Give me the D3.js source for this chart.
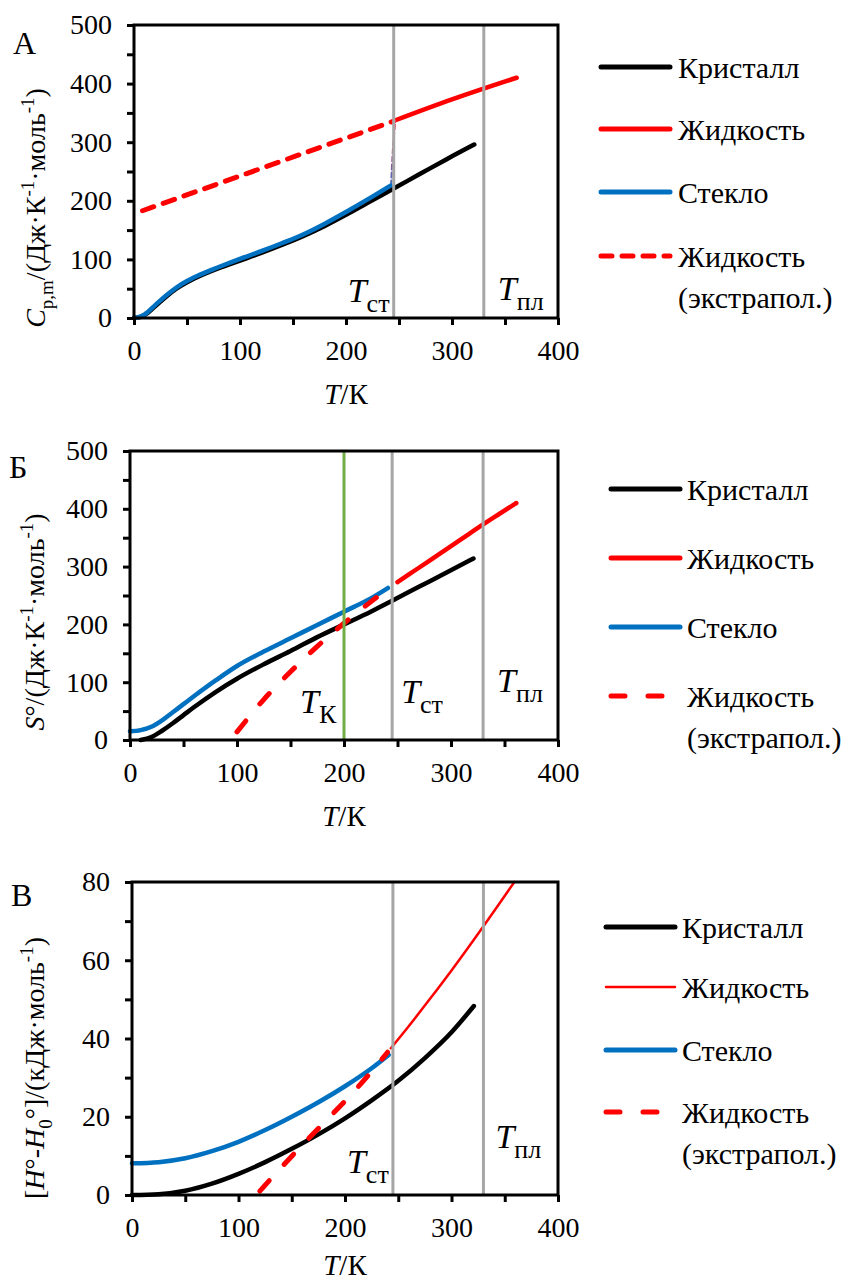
<!DOCTYPE html>
<html>
<head>
<meta charset="utf-8">
<script src="https://cdn.jsdelivr.net/npm/d3@7"></script>
<style>
  body { margin: 0; background: #fff; }
</style>
</head>
<body>
<svg id="chart" width="852" height="1284"></svg>
<script>
// ---------- data ----------
const xTickValues = [0, 50, 100, 150, 200, 250, 300, 350, 400];
const xTickLabels = [0, 100, 200, 300, 400];
const yTicksA = [0, 50, 100, 150, 200, 250, 300, 350, 400, 450, 500];
const yTicksC = [0, 10, 20, 30, 40, 50, 60, 70, 80];

const T_glass = 245, T_melt = 330, T_kauz = 200;

// A: heat capacity, J/(K mol)
const cpCrystalT = [0, 5, 10, 20, 30, 40, 50, 60, 80, 100, 120, 140, 160, 180, 200, 220, 245, 270, 295, 321];
const cpCrystal  = [0, 1, 5, 20, 36, 50, 61, 70, 85, 98, 111, 125, 140, 157, 176, 196, 221, 246, 271, 296];
const cpGlassT   = [0, 5, 10, 20, 30, 40, 50, 60, 80, 100, 120, 140, 160, 180, 200, 220, 242];
const cpGlass    = [0, 2, 6, 22, 38, 52, 63, 72, 87, 101, 114, 128, 143, 161, 181, 202, 226];
const cpJumpT    = [242.5, 244, 246.5];
const cpJump     = [226, 280, 336];
const cpLiqExtT  = [8, 245];
const cpLiqExt   = [183, 336];
const cpLiqT     = [246, 300, 361];
const cpLiq      = [337, 373, 410];

// Б: entropy, J/(K mol)
const sCrystalT = [10, 20, 30, 40, 50, 60, 80, 100, 125, 150, 175, 200, 225, 245, 270, 295, 321];
const sCrystal  = [0, 5, 16, 29, 43, 57, 83, 106, 131, 154, 178, 200, 222, 241, 265, 289, 314];
const sGlassT   = [0, 10, 20, 30, 40, 50, 60, 80, 100, 125, 150, 175, 200, 225, 241];
const sGlass    = [15, 17, 23, 34, 48, 62, 76, 103, 128, 153, 176, 199, 222, 245, 263];
const sLiqExtT  = [100, 125, 150, 175, 200, 225, 245];
const sLiqExt   = [14, 70, 118, 162, 202, 239, 267];
const sLiqT     = [250, 270, 290, 310, 330, 345, 361];
const sLiq      = [273, 298, 323, 348, 373, 391, 410];

// В: enthalpy, kJ/mol
const hCrystalT = [0, 25, 50, 75, 100, 125, 150, 175, 200, 225, 250, 275, 300, 321];
const hCrystal  = [0, 0.2, 1.1, 2.9, 5.4, 8.4, 11.8, 15.5, 19.6, 24.2, 29.2, 35.0, 41.6, 48.3];
const hGlassT   = [0, 25, 50, 75, 100, 125, 150, 175, 200, 225, 241];
const hGlass    = [8.1, 8.4, 9.4, 11.2, 13.6, 16.6, 20.0, 23.7, 27.8, 32.4, 35.8];
const hLiqExtT  = [120, 140, 160, 180, 200, 220, 240];
const hLiqExt   = [1, 7, 12.8, 18.4, 24, 30, 36.5];
const hLiqT     = [243, 260, 280, 300, 330, 345, 359];
const hLiq      = [37.5, 43.2, 50.2, 57.4, 68.7, 74.5, 80];

const legendNames = ['Кристалл', 'Жидкость', 'Стекло', 'Жидкость', '(экстрапол.)'];

// ---------- drawing ----------
const FONT = "'Liberation Serif', LiberationSerif, 'DejaVu Serif', DejaVuSerif, Tinos, 'Nimbus Roman', 'Times New Roman', Times, serif";
const svg = d3.select('#chart');
const BLACK = '#000000', RED = '#ff0000', BLUE = '#0070c0', GRAY = '#a6a6a6', GREEN = '#70ad47';

svg.attr('font-family', FONT);

const defs = svg.append('defs');
const grad = defs.append('linearGradient').attr('id', 'jump')
    .attr('x1', 0).attr('y1', 1).attr('x2', 0).attr('y2', 0);
grad.append('stop').attr('offset', '0%').attr('stop-color', '#4a6fc0');
grad.append('stop').attr('offset', '100%').attr('stop-color', '#ff3050');

// rich text helper: segments [text, kind] with kind in n / i / sub / sup
function richText(sel, segs, size, small) {
    let shift = 0;
    sel.attr('font-family', FONT);
    segs.forEach(s => {
        let target = s[1] === 'sub' ? 0.28 * size : (s[1] === 'sup' ? -0.38 * size : 0);
        sel.append('tspan')
            .attr('dy', target - shift)
            .attr('font-size', (s[1] === 'sub' || s[1] === 'sup' ? small : size))
            .attr('font-style', s[1] === 'i' ? 'italic' : 'normal')
            .text(s[0]);
        shift = target;
    });
}

function drawPanel(p) {
    let x = d3.scaleLinear().domain([0, 400]).range([p.left, p.right]);
    let y = d3.scaleLinear().domain([0, p.yMax]).range([p.bottom, p.top]);
    let g = svg.append('g');

    let line = d3.line()
        .x(d => x(d[0]))
        .y(d => y(d[1]))
        .curve(d3.curveMonotoneX);

    // curves
    p.series.forEach(s => {
        g.append('path')
            .attr('d', line(d3.zip(s.t, s.v)))
            .attr('fill', 'none')
            .attr('stroke', s.color)
            .attr('stroke-width', s.width)
            .attr('stroke-linecap', 'round')
            .attr('stroke-dasharray', s.dash || null);
    });

    // temperature markers
    p.marks.forEach(m => {
        g.append('line')
            .attr('x1', x(m.t)).attr('x2', x(m.t))
            .attr('y1', p.top).attr('y2', p.bottom)
            .attr('stroke', m.color)
            .attr('stroke-width', 3);
        let t = g.append('text')
            .attr('x', x(m.t) + m.dx)
            .attr('y', p.bottom + m.dy);
        richText(t, [['T', 'i'], [m.sub, 'sub']], 34, 26);
    });

    // frame
    g.append('rect')
        .attr('x', p.left).attr('y', p.top)
        .attr('width', p.right - p.left).attr('height', p.bottom - p.top)
        .attr('fill', 'none').attr('stroke', BLACK).attr('stroke-width', 3);

    // axes
    let xAxis = g.append('g')
        .attr('transform', 'translate(0,' + p.bottom + ')')
        .call(d3.axisBottom(x)
            .tickValues(xTickValues)
            .tickSize(7).tickSizeOuter(0).tickPadding(15)
            .tickFormat(d => xTickLabels.includes(d) ? d : ''));
    let yAxis = g.append('g')
        .attr('transform', 'translate(' + p.left + ',0)')
        .call(d3.axisLeft(y)
            .tickValues(p.yTicks)
            .tickSize(7).tickSizeOuter(0).tickPadding(15)
            .tickFormat(d => p.yLabels.includes(d) ? d : ''));
    [xAxis, yAxis].forEach(a => {
        a.attr('font-family', FONT).attr('font-size', 28);
        a.select('.domain').remove();
        a.selectAll('.tick line').attr('stroke', BLACK).attr('stroke-width', 3);
        a.selectAll('.tick text').attr('fill', BLACK);
    });

    // x title
    let xt = g.append('text')
        .attr('x', (p.left + p.right) / 2)
        .attr('y', p.bottom + p.xTitleDy)
        .attr('text-anchor', 'middle');
    richText(xt, [['T', 'i'], ['/К', 'n']], 29, 29);

    // y title
    let yt = g.append('text')
        .attr('transform', 'translate(' + p.yTitleX + ',' + p.yTitleY + ') rotate(-90)')
        .attr('text-anchor', 'middle');
    richText(yt, p.yTitle, 28, 19);

    // panel letter
    g.append('text')
        .attr('x', p.letterX).attr('y', p.letterY)
        .attr('font-size', 32)
        .attr('font-family', FONT)
        .text(p.letter);

    // legend
    let L = p.legend;
    let styles = [
        {color: BLACK, width: 5},
        {color: RED, width: L.liqWidth},
        {color: BLUE, width: 5},
        {color: RED, width: 5, dash: L.dash}
    ];
    styles.forEach((s, i) => {
        g.append('line')
            .attr('x1', L.x0).attr('x2', L.x1)
            .attr('y1', L.ys[i]).attr('y2', L.ys[i])
            .attr('stroke', s.color).attr('stroke-width', s.width)
            .attr('stroke-linecap', 'round')
            .attr('stroke-dasharray', s.dash || null);
        g.append('text')
            .attr('x', L.tx).attr('y', L.ys[i] + 11)
            .attr('font-size', 30)
            .attr('font-family', FONT)
            .text(legendNames[i]);
    });
    g.append('text')
        .attr('x', L.tx).attr('y', L.ys[3] + L.gap + 11)
        .attr('font-size', 30)
        .attr('font-family', FONT)
        .text(legendNames[4]);
}

const jkTitleTail = [['/(Дж·К', 'n'], ['-1', 'sup'], ['·моль', 'n'], ['-1', 'sup'], [')', 'n']];

drawPanel({
    letter: 'А', letterX: 13, letterY: 54,
    left: 134, right: 558, top: 25, bottom: 318, yMax: 500, xTitleDy: 86,
    yTicks: yTicksA, yLabels: [0, 100, 200, 300, 400, 500],
    yTitle: [['C', 'i'], ['p,m', 'sub']].concat(jkTitleTail), yTitleX: 45, yTitleY: 208,
    series: [
        {t: cpCrystalT, v: cpCrystal, color: BLACK, width: 4.5},
        {t: cpLiqExtT, v: cpLiqExt, color: RED, width: 5, dash: '12,10'},
        {t: cpLiqT, v: cpLiq, color: RED, width: 4.5},
        {t: cpJumpT, v: cpJump, color: 'url(#jump)', width: 2, dash: '5,3'},
        {t: cpGlassT, v: cpGlass, color: BLUE, width: 4.5}
    ],
    marks: [
        {t: T_glass, color: GRAY, sub: 'ст', dx: -46, dy: -16},
        {t: T_melt, color: GRAY, sub: 'пл', dx: 14, dy: -18}
    ],
    legend: {x0: 601, x1: 670, tx: 678, ys: [67, 129, 192, 256], gap: 41, liqWidth: 5, dash: '11,10'}
});

drawPanel({
    letter: 'Б', letterX: 9, letterY: 478,
    left: 130, right: 558, top: 451, bottom: 740, yMax: 500, xTitleDy: 86,
    yTicks: yTicksA, yLabels: [0, 100, 200, 300, 400, 500],
    yTitle: [['S', 'i'], ['°', 'n']].concat(jkTitleTail), yTitleX: 44, yTitleY: 622,
    series: [
        {t: sCrystalT, v: sCrystal, color: BLACK, width: 4.5},
        {t: sGlassT, v: sGlass, color: BLUE, width: 4.5},
        {t: sLiqExtT, v: sLiqExt, color: RED, width: 5, dash: '14,22'},
        {t: sLiqT, v: sLiq, color: RED, width: 4.5}
    ],
    marks: [
        {t: T_kauz, color: GREEN, sub: 'К', dx: -44, dy: -27},
        {t: T_glass, color: GRAY, sub: 'ст', dx: 9, dy: -37},
        {t: T_melt, color: GRAY, sub: 'пл', dx: 14, dy: -48}
    ],
    legend: {x0: 611, x1: 680, tx: 687, ys: [489, 558, 627, 696], gap: 41, liqWidth: 5, dash: '14,23'}
});

drawPanel({
    letter: 'В', letterX: 11, letterY: 906,
    left: 132, right: 558, top: 882, bottom: 1195, yMax: 80, xTitleDy: 80,
    yTicks: yTicksC, yLabels: [0, 20, 40, 60, 80],
    yTitle: [['[', 'n'], ['H', 'i'], ['°-', 'n'], ['H', 'i'], ['0', 'sub'], ['°]/(кДж·моль', 'n'], ['-1', 'sup'], [')', 'n']],
    yTitleX: 44, yTitleY: 1068,
    series: [
        {t: hCrystalT, v: hCrystal, color: BLACK, width: 4.5},
        {t: hGlassT, v: hGlass, color: BLUE, width: 4.5},
        {t: hLiqExtT, v: hLiqExt, color: RED, width: 5, dash: '14,22'},
        {t: hLiqT, v: hLiq, color: RED, width: 2.5}
    ],
    marks: [
        {t: T_glass, color: GRAY, sub: 'ст', dx: -46, dy: -22},
        {t: T_melt, color: GRAY, sub: 'пл', dx: 12, dy: -47}
    ],
    legend: {x0: 606, x1: 675, tx: 682, ys: [927, 987, 1050, 1112], gap: 41, liqWidth: 2.5, dash: '14,23'}
});
</script>
</body>
</html>
